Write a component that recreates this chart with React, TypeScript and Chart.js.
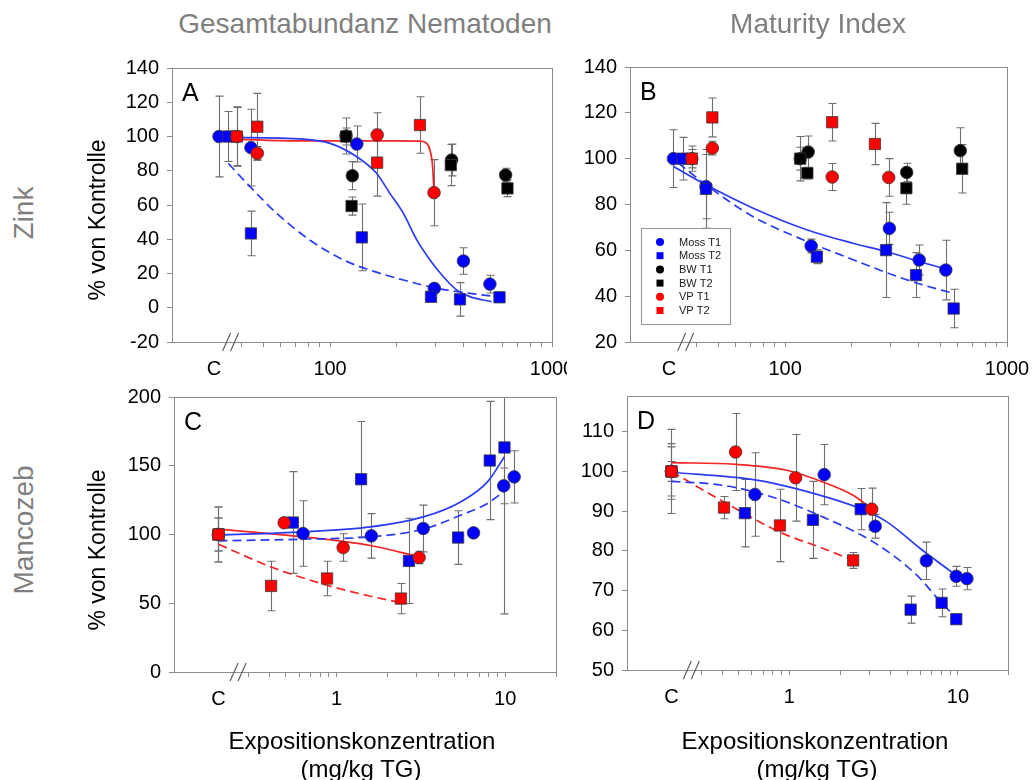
import React, { useEffect, useRef } from "react";
import { Chart, registerables } from "chart.js";

Chart.register(...registerables);

const FONT = '"Liberation Sans", Arial, Helvetica, sans-serif';
Chart.defaults.font.family = FONT;

// ---------------- tick values / labels ----------------
const X_TICKS_AB = [30, 40, 50, 60, 70, 80, 90, 100, 200, 300, 400, 500, 600, 700, 800, 900, 1000];
const X_LABELS_AB = ["C", "", "", "", "", "", "", "100", "", "", "", "", "", "", "", "", "1000"];
const X_TICKS_CD = [0.2, 0.3, 0.4, 0.5, 0.6, 0.7, 0.8, 0.9, 1, 2, 3, 4, 5, 6, 7, 8, 9, 10, 20];
const X_LABELS_CD = ["C", "", "", "", "", "", "", "", "1", "", "", "", "", "", "", "", "", "10", ""];
const Y_TICKS_A = [-20, 0, 20, 40, 60, 80, 100, 120, 140];
const Y_TICKS_B = [20, 40, 60, 80, 100, 120, 140];
const Y_TICKS_C = [0, 50, 100, 150, 200];
const Y_TICKS_D = [50, 60, 70, 80, 90, 100, 110];

// ---------------- Panel A : Zink, Gesamtabundanz ----------------
const A_MOSS_T1_X = [31.6, 44, 132, 295, 399, 525];
const A_MOSS_T1_Y = [100, 93.5, 95.6, 11.3, 27.3, 13.8];
const A_MOSS_T1_E = [23.6, 22.4, 10.5, 2, 7.7, 5.2];
const A_MOSS_T2_X = [34.8, 44, 139, 285, 385, 580];
const A_MOSS_T2_Y = [100, 43.4, 41.1, 6.4, 4.9, 6.1];
const A_MOSS_T2_E = [14.6, 13, 19.5, 2, 9.8, 2];
const A_BW_T1_X = [118, 126, 353, 618];
const A_BW_T1_Y = [100.3, 77.1, 86.3, 77.5];
const A_BW_T1_E = [10.5, 8.2, 9.3, 4];
const A_BW_T2_X = [118, 125, 350, 630];
const A_BW_T2_Y = [100, 59.4, 83.3, 69.7];
const A_BW_T2_E = [5, 5.3, 12, 4.8];
const A_VP_T1_X = [38, 47, 163, 294];
const A_VP_T1_Y = [100, 90.2, 100.9, 67.2];
const A_VP_T1_E = [17, 4, 13, 19.3];
const A_VP_T2_X = [38, 47, 163, 254];
const A_VP_T2_Y = [100, 105.7, 84.7, 106.7];
const A_VP_T2_E = [17.4, 19.5, 19.5, 16.5];
const A_FIT_MOSS_T1_X = [34.8, 75.8, 100, 132, 162, 186, 214, 246, 282, 324, 372, 427, 535];
const A_FIT_MOSS_T1_Y = [99.5, 98.5, 96, 88.2, 78.5, 66.8, 55.1, 39.6, 27.9, 18.1, 10.4, 6.5, 3.5];
const A_FIT_MOSS_T2_X = [34.8, 43.6, 57.5, 81, 115, 151, 214, 303, 427, 604];
const A_FIT_MOSS_T2_Y = [84.3, 70.7, 55.1, 39.6, 27.9, 22, 16.2, 11.3, 8.4, 6.1];
const A_FIT_VP_T1_X = [36.7, 60, 100, 200, 254, 273, 282, 290, 294];
const A_FIT_VP_T1_Y = [98.5, 97.6, 97.4, 97.4, 97.3, 96, 92, 82, 67.2];

// ---------------- Panel B : Zink, Maturity Index ----------------
const B_MOSS_T1_X = [31.4, 44, 131, 295, 402, 530];
const B_MOSS_T1_Y = [100, 87.8, 61.9, 69.6, 55.8, 51.4];
const B_MOSS_T1_E = [12.6, 14, 3, 7, 6.5, 13];
const B_MOSS_T2_X = [34.5, 44, 139, 285, 389, 575];
const B_MOSS_T2_Y = [100, 86.8, 57.2, 60.1, 49.2, 34.6];
const B_MOSS_T2_E = [9.3, 17.2, 3, 20.7, 9.8, 8.4];
const B_BW_T1_X = [117, 127, 353, 616];
const B_BW_T1_Y = [100, 102.9, 94, 103.5];
const B_BW_T1_E = [9.7, 7, 4, 10];
const B_BW_T2_X = [117, 126, 352, 628];
const B_BW_T2_Y = [100, 93.7, 87.1, 95.6];
const B_BW_T2_E = [5, 2.5, 7, 10.6];
const B_VP_T1_X = [38, 47, 163, 293];
const B_VP_T1_Y = [100, 104.6, 92, 91.8];
const B_VP_T1_E = [5.5, 3, 5.9, 8.2];
const B_VP_T2_X = [38, 47, 163, 254];
const B_VP_T2_Y = [100, 118, 115.9, 106.4];
const B_VP_T2_E = [4, 8.5, 8.2, 9];
const B_FIT_MOSS_T1_X = [31.4, 44, 71.8, 126, 204, 288, 405, 519];
const B_FIT_MOSS_T1_Y = [96.6, 88.6, 78.4, 68.9, 63, 59.4, 55, 52.1];
const B_FIT_MOSS_T2_X = [33, 44, 71.8, 126, 204, 288, 405, 575];
const B_FIT_MOSS_T2_Y = [98.1, 88.6, 74.7, 63.8, 55.8, 50.2, 45.3, 41.2];

// ---------------- Panel C : Mancozeb, Gesamtabundanz ----------------
const C_MOSS_T1_X = [0.2, 0.634, 1.61, 3.27, 6.49, 9.8, 11.3];
const C_MOSS_T1_Y = [100, 100.7, 99, 104.4, 101.2, 135.4, 141.9];
const C_MOSS_T1_E = [20, 23.8, 16.2, 17, 0, 13, 19];
const C_MOSS_T2_X = [0.2, 0.552, 1.4, 2.69, 5.26, 8.1, 9.9];
const C_MOSS_T2_Y = [100, 108.7, 140.2, 80.8, 97.8, 153.8, 163.3];
const C_MOSS_T2_E = [12, 37, 42, 31, 19.5, 43, 121];
const C_VP_T1_X = [0.2, 0.49, 1.096, 3.09];
const C_VP_T1_Y = [100, 108.5, 90.5, 83.3];
const C_VP_T1_E = [12, 3.5, 10, 4.5];
const C_VP_T2_X = [0.2, 0.41, 0.88, 2.41];
const C_VP_T2_Y = [100, 62.6, 68, 53.4];
const C_VP_T2_E = [20, 18, 12.5, 11];
const C_FIT_MOSS_T1_X = [0.2, 0.634, 1.59, 3.27, 5.44, 7.85, 9.9];
const C_FIT_MOSS_T1_Y = [99.5, 101.9, 105.5, 112.8, 123.7, 138.3, 156.5];
const C_FIT_MOSS_T2_X = [0.2, 0.634, 1.59, 3.27, 5.44, 7.85, 11.5];
const C_FIT_MOSS_T2_Y = [95.4, 96.6, 98.3, 103.9, 114, 122.6, 138.3];
const C_FIT_VP_T1_X = [0.2, 0.634, 1.59, 3.09];
const C_FIT_VP_T1_Y = [103.9, 98.3, 92, 83.7];
const C_FIT_VP_T2_X = [0.2, 0.41, 0.88, 1.59, 2.41];
const C_FIT_VP_T2_Y = [92.9, 76.4, 63.1, 55.1, 50.5];

// ---------------- Panel D : Mancozeb, Maturity Index ----------------
const D_MOSS_T1_X = [0.2, 0.625, 1.61, 3.23, 6.49, 9.77, 11.3];
const D_MOSS_T1_Y = [100, 94.2, 99.2, 86.2, 77.5, 73.6, 73];
const D_MOSS_T1_E = [10.6, 10.5, 7.6, 3, 4.7, 2.5, 2.8];
const D_MOSS_T2_X = [0.2, 0.545, 1.38, 2.65, 5.24, 8.0, 9.77];
const D_MOSS_T2_Y = [100, 89.5, 87.8, 90.5, 65.2, 66.9, 62.8];
const D_MOSS_T2_E = [7, 8.5, 9.7, 5.2, 3.4, 3.5, 1];
const D_VP_T1_X = [0.2, 0.48, 1.09, 3.08];
const D_VP_T1_Y = [100, 104.9, 98.4, 90.5];
const D_VP_T1_E = [6.2, 9.7, 10.9, 5.3];
const D_VP_T2_X = [0.2, 0.41, 0.88, 2.39];
const D_VP_T2_Y = [100, 90.9, 86.4, 77.6];
const D_VP_T2_E = [2.5, 2.8, 9.1, 2];
const D_FIT_MOSS_T1_X = [0.2, 0.625, 1.11, 2.65, 3.79, 5.97, 9.43];
const D_FIT_MOSS_T1_Y = [99.8, 97.9, 95.6, 90.6, 87.3, 80.6, 74.3];
const D_FIT_MOSS_T2_X = [0.2, 0.405, 0.8, 1.59, 3.16, 5.7, 7.87, 9.45];
const D_FIT_MOSS_T2_Y = [97.5, 96.5, 93.5, 88.5, 82.2, 73.9, 67.2, 63.8];
const D_FIT_VP_T1_X = [0.2, 0.48, 0.965, 1.59, 2.39, 3.08];
const D_FIT_VP_T1_Y = [102.2, 101.8, 100.3, 97.3, 94, 90.6];
const D_FIT_VP_T2_X = [0.2, 0.41, 0.88, 1.59, 2.39];
const D_FIT_VP_T2_Y = [100, 92.3, 84.7, 80.6, 77.6];

// ---------------- styles ----------------
const BLUE = "#0000ff";
const RED = "#ff0000";
const BLACK = "#000000";
const BLUE_LINE = "#2a3cf2";
const RED_LINE = "#f52424";

interface SeriesDef { label: string; color: string; style: "circle" | "rect"; x: number[]; y: number[]; err: number[] }
interface FitDef { color: string; dashed: boolean; x: number[]; y: number[] }
interface PanelDef {
  key: string; letter: string;
  left: number; top: number; width: number; height: number;
  yAxisW: number; padTop: number; padRight: number; xAxisH: number;
  xMin: number; xMax: number; xTicks: number[]; xLabels: string[]; breakAt: number;
  yMin: number; yMax: number; yTicks: number[];
  series: SeriesDef[]; fits: FitDef[]; legend: boolean; bg?: string;
}

const S = (label: string, color: string, style: "circle" | "rect", x: number[], y: number[], err: number[]): SeriesDef =>
  ({ label, color, style, x, y, err });
const F = (color: string, dashed: boolean, x: number[], y: number[]): FitDef => ({ color, dashed, x, y });

const LEGEND_ITEMS: [string, string, "circle" | "rect"][] = [
  ["Moss T1", BLUE, "circle"],
  ["Moss T2", BLUE, "rect"],
  ["BW T1", BLACK, "circle"],
  ["BW T2", BLACK, "rect"],
  ["VP T1", RED, "circle"],
  ["VP T2", RED, "rect"],
];

const PANELS: PanelDef[] = [
  {
    key: "A", letter: "A", left: 80, top: 40, width: 510, height: 350,
    yAxisW: 92, padTop: 28, padRight: 38, xAxisH: 48,
    xMin: 19.4, xMax: 1000, xTicks: X_TICKS_AB, xLabels: X_LABELS_AB, breakAt: 36,
    yMin: -20, yMax: 140, yTicks: Y_TICKS_A, legend: false,
    series: [
      S("Moss T1", BLUE, "circle", A_MOSS_T1_X, A_MOSS_T1_Y, A_MOSS_T1_E),
      S("Moss T2", BLUE, "rect", A_MOSS_T2_X, A_MOSS_T2_Y, A_MOSS_T2_E),
      S("BW T1", BLACK, "circle", A_BW_T1_X, A_BW_T1_Y, A_BW_T1_E),
      S("BW T2", BLACK, "rect", A_BW_T2_X, A_BW_T2_Y, A_BW_T2_E),
      S("VP T1", RED, "circle", A_VP_T1_X, A_VP_T1_Y, A_VP_T1_E),
      S("VP T2", RED, "rect", A_VP_T2_X, A_VP_T2_Y, A_VP_T2_E),
    ],
    fits: [
      F(BLUE_LINE, false, A_FIT_MOSS_T1_X, A_FIT_MOSS_T1_Y),
      F(BLUE_LINE, true, A_FIT_MOSS_T2_X, A_FIT_MOSS_T2_Y),
      F(RED_LINE, false, A_FIT_VP_T1_X, A_FIT_VP_T1_Y),
    ],
  },
  {
    key: "C", letter: "C", left: 80, top: 380, width: 510, height: 380,
    yAxisW: 94, padTop: 17, padRight: 34, xAxisH: 88,
    xMin: 0.109, xMax: 20, xTicks: X_TICKS_CD, xLabels: X_LABELS_CD, breakAt: 0.265,
    yMin: 0, yMax: 200, yTicks: Y_TICKS_C, legend: false,
    series: [
      S("Moss T1", BLUE, "circle", C_MOSS_T1_X, C_MOSS_T1_Y, C_MOSS_T1_E),
      S("Moss T2", BLUE, "rect", C_MOSS_T2_X, C_MOSS_T2_Y, C_MOSS_T2_E),
      S("VP T1", RED, "circle", C_VP_T1_X, C_VP_T1_Y, C_VP_T1_E),
      S("VP T2", RED, "rect", C_VP_T2_X, C_VP_T2_Y, C_VP_T2_E),
    ],
    fits: [
      F(BLUE_LINE, false, C_FIT_MOSS_T1_X, C_FIT_MOSS_T1_Y),
      F(BLUE_LINE, true, C_FIT_MOSS_T2_X, C_FIT_MOSS_T2_Y),
      F(RED_LINE, false, C_FIT_VP_T1_X, C_FIT_VP_T1_Y),
      F(RED_LINE, true, C_FIT_VP_T2_X, C_FIT_VP_T2_Y),
    ],
  },
  {
    key: "B", letter: "B", left: 567, top: 40, width: 467, height: 350,
    yAxisW: 63, padTop: 27, padRight: 27, xAxisH: 48, bg: "#ffffff",
    xMin: 20, xMax: 1000, xTicks: X_TICKS_AB, xLabels: X_LABELS_AB, breakAt: 36,
    yMin: 20, yMax: 140, yTicks: Y_TICKS_B, legend: true,
    series: [
      S("Moss T1", BLUE, "circle", B_MOSS_T1_X, B_MOSS_T1_Y, B_MOSS_T1_E),
      S("Moss T2", BLUE, "rect", B_MOSS_T2_X, B_MOSS_T2_Y, B_MOSS_T2_E),
      S("BW T1", BLACK, "circle", B_BW_T1_X, B_BW_T1_Y, B_BW_T1_E),
      S("BW T2", BLACK, "rect", B_BW_T2_X, B_BW_T2_Y, B_BW_T2_E),
      S("VP T1", RED, "circle", B_VP_T1_X, B_VP_T1_Y, B_VP_T1_E),
      S("VP T2", RED, "rect", B_VP_T2_X, B_VP_T2_Y, B_VP_T2_E),
    ],
    fits: [
      F(BLUE_LINE, false, B_FIT_MOSS_T1_X, B_FIT_MOSS_T1_Y),
      F(BLUE_LINE, true, B_FIT_MOSS_T2_X, B_FIT_MOSS_T2_Y),
    ],
  },
  {
    key: "D", letter: "D", left: 567, top: 380, width: 467, height: 380,
    yAxisW: 60, padTop: 16, padRight: 26, xAxisH: 90,
    xMin: 0.109, xMax: 19.8, xTicks: X_TICKS_CD, xLabels: X_LABELS_CD, breakAt: 0.266,
    yMin: 50, yMax: 119, yTicks: Y_TICKS_D, legend: false,
    series: [
      S("Moss T1", BLUE, "circle", D_MOSS_T1_X, D_MOSS_T1_Y, D_MOSS_T1_E),
      S("Moss T2", BLUE, "rect", D_MOSS_T2_X, D_MOSS_T2_Y, D_MOSS_T2_E),
      S("VP T1", RED, "circle", D_VP_T1_X, D_VP_T1_Y, D_VP_T1_E),
      S("VP T2", RED, "rect", D_VP_T2_X, D_VP_T2_Y, D_VP_T2_E),
    ],
    fits: [
      F(BLUE_LINE, false, D_FIT_MOSS_T1_X, D_FIT_MOSS_T1_Y),
      F(BLUE_LINE, true, D_FIT_MOSS_T2_X, D_FIT_MOSS_T2_Y),
      F(RED_LINE, false, D_FIT_VP_T1_X, D_FIT_VP_T1_Y),
      F(RED_LINE, true, D_FIT_VP_T2_X, D_FIT_VP_T2_Y),
    ],
  },
];

const FRAME = "#8c8c8c";

function drawMarker(ctx: CanvasRenderingContext2D, style: string, x: number, y: number, r: number, color: string) {
  ctx.beginPath();
  if (style === "circle") ctx.arc(x, y, r, 0, Math.PI * 2);
  else ctx.rect(x - r, y - r, 2 * r, 2 * r);
  ctx.fillStyle = color;
  ctx.fill();
}

function makeDecor(p: PanelDef) {
  return {
    id: "decor" + p.key,
    beforeDatasetsDraw(chart: any) {
      const { ctx, chartArea: a, scales } = chart;
      const xs = scales.x;
      const ys = scales.y;
      ctx.save();
      ctx.beginPath();
      ctx.rect(a.left, a.top, a.right - a.left, a.bottom - a.top);
      ctx.clip();
      ctx.strokeStyle = "#6e6e6e";
      ctx.lineWidth = 1.1;
      chart.data.datasets.forEach((ds: any) => {
        if (!ds.errors) return;
        ds.data.forEach((pt: any, i: number) => {
          const e = ds.errors[i];
          if (!e) return;
          const x = Math.round(xs.getPixelForValue(pt.x)) + 0.5;
          const yt = ys.getPixelForValue(pt.y + e);
          const yb = ys.getPixelForValue(pt.y - e);
          ctx.beginPath();
          ctx.moveTo(x, yt);
          ctx.lineTo(x, yb);
          ctx.moveTo(x - 4, yt);
          ctx.lineTo(x + 4, yt);
          ctx.moveTo(x - 4, yb);
          ctx.lineTo(x + 4, yb);
          ctx.stroke();
        });
      });
      ctx.restore();
    },
    afterDraw(chart: any) {
      const { ctx, chartArea: a, scales } = chart;
      ctx.save();
      // frame
      ctx.strokeStyle = FRAME;
      ctx.lineWidth = 1;
      ctx.strokeRect(Math.round(a.left) + 0.5, Math.round(a.top) + 0.5, Math.round(a.right - a.left), Math.round(a.bottom - a.top));
      // panel letter
      ctx.fillStyle = "#000";
      ctx.font = `25px ${FONT}`;
      ctx.textBaseline = "alphabetic";
      ctx.textAlign = "left";
      ctx.fillText(p.letter, a.left + 10, a.top + 33);
      // axis break
      const bx = scales.x.getPixelForValue(p.breakAt);
      const by = a.bottom;
      ctx.strokeStyle = "#555";
      ctx.lineWidth = 1.1;
      for (let k = 0; k < 2; k++) {
        ctx.beginPath();
        ctx.moveTo(bx - 9 + 8 * k, by + 9);
        ctx.lineTo(bx - 1 + 8 * k, by - 9);
        ctx.stroke();
      }
      // legend
      if (p.legend) {
        const lx = a.left + 11;
        const ly = a.top + 161;
        ctx.fillStyle = "#fff";
        ctx.fillRect(lx, ly, 89, 96);
        ctx.strokeStyle = "#999";
        ctx.strokeRect(lx + 0.5, ly + 0.5, 89, 96);
        ctx.font = `11px ${FONT}`;
        ctx.textBaseline = "middle";
        LEGEND_ITEMS.forEach(([label, color, style], i) => {
          const cy = ly + 14 + 13.7 * i;
          drawMarker(ctx, style, lx + 19, cy, style === "circle" ? 4 : 3.5, color);
          ctx.fillStyle = "#1a1a1a";
          ctx.fillText(label, lx + 38, cy + 0.5);
        });
      }
      ctx.restore();
    },
  };
}

function Panel({ def }: { def: PanelDef }) {
  const ref = useRef<HTMLCanvasElement | null>(null);
  useEffect(() => {
    if (!ref.current) return;
    const p = def;
    const pointSets = [...p.series].reverse().map((s) => ({
      label: s.label,
      data: s.x.map((x, i) => ({ x, y: s.y[i] })),
      errors: s.err,
      showLine: false,
      pointStyle: s.style,
      pointRadius: s.style === "circle" ? 6.3 : 8,
      pointBackgroundColor: s.color,
      pointBorderColor: "#3a3a3a",
      pointBorderWidth: 0.8,
      order: 0,
    }));
    const fitSets = p.fits.map((f) => ({
      label: "fit",
      data: f.x.map((x, i) => ({ x, y: f.y[i] })),
      showLine: true,
      borderColor: f.color,
      borderWidth: 1.7,
      borderDash: f.dashed ? [9, 5] : [],
      pointRadius: 0,
      cubicInterpolationMode: "monotone",
      fill: false,
      order: 1,
    }));
    const chart = new Chart(ref.current, {
      type: "scatter",
      data: { datasets: [...pointSets, ...fitSets] as any },
      plugins: [makeDecor(p)],
      options: {
        responsive: false,
        animation: false,
        events: [],
        layout: { padding: { top: p.padTop, right: p.padRight, left: 0, bottom: 0 } },
        plugins: { legend: { display: false }, tooltip: { enabled: false }, title: { display: false } },
        scales: {
          x: {
            type: "logarithmic",
            min: p.xMin,
            max: p.xMax,
            afterBuildTicks: (s: any) => {
              s.ticks = p.xTicks.map((v) => ({ value: v }));
            },
            afterFit: (s: any) => {
              s.height = p.xAxisH;
              s.paddingLeft = 0;
              s.paddingRight = 0;
            },
            grid: {
              drawOnChartArea: false,
              tickLength: 5,
              tickColor: (c: any) => (c.tick && c.tick.value === p.xTicks[0] ? "rgba(0,0,0,0)" : FRAME),
            },
            border: { color: FRAME, width: 1 },
            ticks: {
              autoSkip: false,
              maxRotation: 0,
              minRotation: 0,
              padding: 10,
              color: "#000",
              font: { family: FONT, size: 20 },
              callback: (_v: any, i: number) => p.xLabels[i] ?? "",
            },
          },
          y: {
            type: "linear",
            min: p.yMin,
            max: p.yMax,
            afterBuildTicks: (s: any) => {
              s.ticks = p.yTicks.map((v) => ({ value: v }));
            },
            afterFit: (s: any) => {
              s.width = p.yAxisW;
              s.paddingTop = 0;
              s.paddingBottom = 0;
            },
            grid: { drawOnChartArea: false, tickLength: 5, tickColor: FRAME },
            border: { color: FRAME, width: 1 },
            ticks: {
              padding: 8,
              color: "#000",
              font: { family: FONT, size: 20 },
              callback: (v: any) => String(v),
            },
          },
        },
      } as any,
    });
    return () => chart.destroy();
  }, [def]);
  return (
    <canvas
      ref={ref}
      width={def.width}
      height={def.height}
      style={{
        position: "absolute",
        left: def.left,
        top: def.top,
        width: def.width,
        height: def.height,
        background: def.bg ?? "transparent",
      }}
    />
  );
}

function Label({ text, x, y, size, color, rotate }: { text: string; x: number; y: number; size: number; color: string; rotate?: boolean }) {
  return (
    <div
      style={{
        position: "absolute",
        left: x,
        top: y,
        transform: `translate(-50%, -50%)${rotate ? " rotate(-90deg)" : ""}`,
        fontFamily: FONT,
        fontSize: size,
        lineHeight: 1,
        color,
        whiteSpace: "nowrap",
      }}
    >
      {text}
    </div>
  );
}

export default function App() {
  return (
    <div style={{ position: "absolute", left: 0, top: 0, width: 1034, height: 780, overflow: "hidden", background: "#fff" }}>
      {PANELS.map((p) => (
        <Panel key={p.key} def={p} />
      ))}
      <Label text="Gesamtabundanz Nematoden" x={365} y={24} size={28} color="#7f7f7f" />
      <Label text="Maturity Index" x={818} y={24} size={28} color="#7f7f7f" />
      <Label text="Zink" x={24} y={213} size={28} color="#7f7f7f" rotate />
      <Label text="Mancozeb" x={24} y={530} size={28} color="#7f7f7f" rotate />
      <Label text="% von Kontrolle" x={97} y={220} size={23} color="#000" rotate />
      <Label text="% von Kontrolle" x={97} y={550} size={23} color="#000" rotate />
      <Label text="Expositionskonzentration" x={362} y={741} size={24} color="#000" />
      <Label text="(mg/kg TG)" x={361} y={769} size={24} color="#000" />
      <Label text="Expositionskonzentration" x={815} y={741} size={24} color="#000" />
      <Label text="(mg/kg TG)" x={817} y={769} size={24} color="#000" />
    </div>
  );
}
